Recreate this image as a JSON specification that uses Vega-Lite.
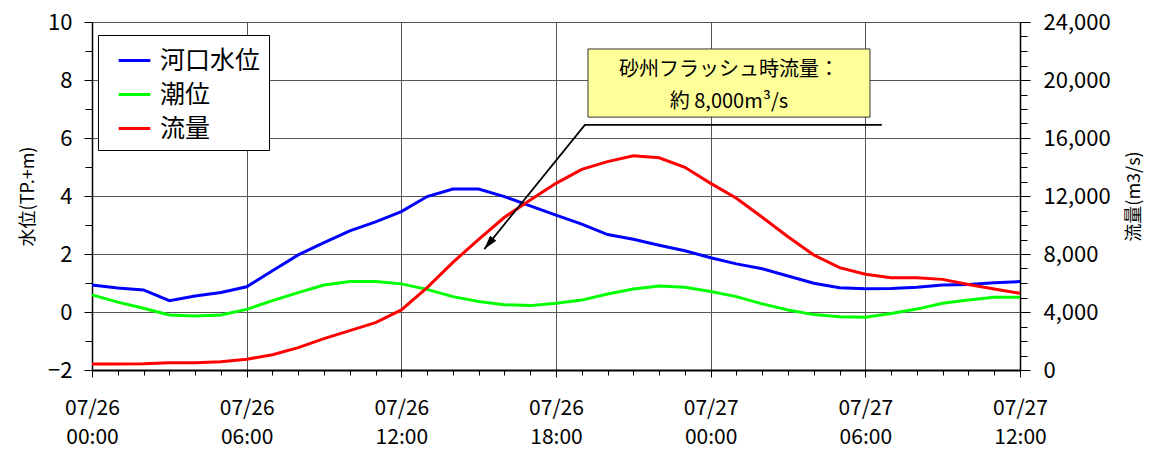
{
  "$schema": "https://vega.github.io/schema/vega-lite/v6.json",
  "width": 928,
  "height": 348,
  "autosize": {"type": "none"},
  "padding": {"left": 92, "top": 22, "right": 137, "bottom": 80},
  "background": "white",
  "config": {
    "font": "Noto Sans CJK JP",
    "view": {"stroke": "#000", "strokeWidth": 1},
    "axis": {
      "labelColor": "#000",
      "titleColor": "#000",
      "domainColor": "#000",
      "tickColor": "#000",
      "gridColor": "#555",
      "gridWidth": 1,
      "titleFontWeight": "normal",
      "labelFont": "Noto Sans CJK JP",
      "titleFont": "Noto Sans CJK JP"
    },
    "legend": {
      "orient": "none",
      "legendX": 6,
      "legendY": 13,
      "padding": 8,
      "strokeColor": "#000",
      "fillColor": "#fff",
      "symbolType": "stroke",
      "symbolSize": 1000,
      "symbolStrokeWidth": 3,
      "symbolOffset": 11,
      "labelFontSize": 25,
      "labelFont": "Noto Sans CJK JP",
      "labelColor": "#000",
      "labelOffset": 8,
      "rowPadding": 3,
      "labelLimit": 300
    }
  },
  "datasets": {
    "main": [
      {"h": 0, "s": "河口水位", "v": 0.93}, {"h": 1, "s": "河口水位", "v": 0.83}, {"h": 2, "s": "河口水位", "v": 0.76},
      {"h": 3, "s": "河口水位", "v": 0.39}, {"h": 4, "s": "河口水位", "v": 0.55}, {"h": 5, "s": "河口水位", "v": 0.67},
      {"h": 6, "s": "河口水位", "v": 0.87}, {"h": 7, "s": "河口水位", "v": 1.42}, {"h": 8, "s": "河口水位", "v": 1.97},
      {"h": 9, "s": "河口水位", "v": 2.39}, {"h": 10, "s": "河口水位", "v": 2.80}, {"h": 11, "s": "河口水位", "v": 3.11},
      {"h": 12, "s": "河口水位", "v": 3.46}, {"h": 13, "s": "河口水位", "v": 3.98}, {"h": 14, "s": "河口水位", "v": 4.24},
      {"h": 15, "s": "河口水位", "v": 4.24}, {"h": 16, "s": "河口水位", "v": 3.98}, {"h": 17, "s": "河口水位", "v": 3.66},
      {"h": 18, "s": "河口水位", "v": 3.34}, {"h": 19, "s": "河口水位", "v": 3.03}, {"h": 20, "s": "河口水位", "v": 2.67},
      {"h": 21, "s": "河口水位", "v": 2.51}, {"h": 22, "s": "河口水位", "v": 2.30}, {"h": 23, "s": "河口水位", "v": 2.11},
      {"h": 24, "s": "河口水位", "v": 1.87}, {"h": 25, "s": "河口水位", "v": 1.66}, {"h": 26, "s": "河口水位", "v": 1.49},
      {"h": 27, "s": "河口水位", "v": 1.24}, {"h": 28, "s": "河口水位", "v": 0.99}, {"h": 29, "s": "河口水位", "v": 0.84},
      {"h": 30, "s": "河口水位", "v": 0.80}, {"h": 31, "s": "河口水位", "v": 0.81}, {"h": 32, "s": "河口水位", "v": 0.85},
      {"h": 33, "s": "河口水位", "v": 0.93}, {"h": 34, "s": "河口水位", "v": 0.95}, {"h": 35, "s": "河口水位", "v": 1.01},
      {"h": 36, "s": "河口水位", "v": 1.05},
      {"h": 0, "s": "潮位", "v": 0.59}, {"h": 1, "s": "潮位", "v": 0.34}, {"h": 2, "s": "潮位", "v": 0.13},
      {"h": 3, "s": "潮位", "v": -0.10}, {"h": 4, "s": "潮位", "v": -0.14}, {"h": 5, "s": "潮位", "v": -0.10},
      {"h": 6, "s": "潮位", "v": 0.09}, {"h": 7, "s": "潮位", "v": 0.39}, {"h": 8, "s": "潮位", "v": 0.67},
      {"h": 9, "s": "潮位", "v": 0.93}, {"h": 10, "s": "潮位", "v": 1.05}, {"h": 11, "s": "潮位", "v": 1.05},
      {"h": 12, "s": "潮位", "v": 0.97}, {"h": 13, "s": "潮位", "v": 0.78}, {"h": 14, "s": "潮位", "v": 0.53},
      {"h": 15, "s": "潮位", "v": 0.36}, {"h": 16, "s": "潮位", "v": 0.25}, {"h": 17, "s": "潮位", "v": 0.22},
      {"h": 18, "s": "潮位", "v": 0.30}, {"h": 19, "s": "潮位", "v": 0.41}, {"h": 20, "s": "潮位", "v": 0.62},
      {"h": 21, "s": "潮位", "v": 0.79}, {"h": 22, "s": "潮位", "v": 0.90}, {"h": 23, "s": "潮位", "v": 0.85},
      {"h": 24, "s": "潮位", "v": 0.71}, {"h": 25, "s": "潮位", "v": 0.53}, {"h": 26, "s": "潮位", "v": 0.28},
      {"h": 27, "s": "潮位", "v": 0.07}, {"h": 28, "s": "潮位", "v": -0.09}, {"h": 29, "s": "潮位", "v": -0.16},
      {"h": 30, "s": "潮位", "v": -0.18}, {"h": 31, "s": "潮位", "v": -0.05}, {"h": 32, "s": "潮位", "v": 0.10},
      {"h": 33, "s": "潮位", "v": 0.30}, {"h": 34, "s": "潮位", "v": 0.41}, {"h": 35, "s": "潮位", "v": 0.51},
      {"h": 36, "s": "潮位", "v": 0.51},
      {"h": 0, "s": "流量", "v": 414}, {"h": 1, "s": "流量", "v": 414}, {"h": 2, "s": "流量", "v": 430},
      {"h": 3, "s": "流量", "v": 506}, {"h": 4, "s": "流量", "v": 506}, {"h": 5, "s": "流量", "v": 575},
      {"h": 6, "s": "流量", "v": 736}, {"h": 7, "s": "流量", "v": 1057}, {"h": 8, "s": "流量", "v": 1540},
      {"h": 9, "s": "流量", "v": 2161}, {"h": 10, "s": "流量", "v": 2713}, {"h": 11, "s": "流量", "v": 3265},
      {"h": 12, "s": "流量", "v": 4140}, {"h": 13, "s": "流量", "v": 5680}, {"h": 14, "s": "流量", "v": 7427},
      {"h": 15, "s": "流量", "v": 9010}, {"h": 16, "s": "流量", "v": 10530}, {"h": 17, "s": "流量", "v": 11724},
      {"h": 18, "s": "流量", "v": 12874}, {"h": 19, "s": "流量", "v": 13840}, {"h": 20, "s": "流量", "v": 14370},
      {"h": 21, "s": "流量", "v": 14780}, {"h": 22, "s": "流量", "v": 14640}, {"h": 23, "s": "流量", "v": 13980},
      {"h": 24, "s": "流量", "v": 12870}, {"h": 25, "s": "流量", "v": 11840}, {"h": 26, "s": "流量", "v": 10530},
      {"h": 27, "s": "流量", "v": 9195}, {"h": 28, "s": "流量", "v": 7930}, {"h": 29, "s": "流量", "v": 7057},
      {"h": 30, "s": "流量", "v": 6600}, {"h": 31, "s": "流量", "v": 6370}, {"h": 32, "s": "流量", "v": 6370},
      {"h": 33, "s": "流量", "v": 6250}, {"h": 34, "s": "流量", "v": 5900}, {"h": 35, "s": "流量", "v": 5590},
      {"h": 36, "s": "流量", "v": 5290}
    ],
    "box": [{"h1": 19.24, "h2": 30.18, "v1": 6.72, "v2": 9.07}],
    "arrow": [
      {"h": 30.64, "v": 6.45, "o": 1},
      {"h": 19.12, "v": 6.45, "o": 2},
      {"h": 15.22, "v": 2.17, "o": 3}
    ],
    "head": [{"h": 15.22, "v": 2.17}],
    "note": [
      {"h": 24.71, "v": 8.34, "txt": "砂州フラッシュ時流量："},
      {"h": 24.71, "v": 7.25, "txt": "約 8,000m³/s"}
    ]
  },
  "resolve": {
    "scale": {"y": "independent"},
    "axis": {"x": "independent", "y": "independent"}
  },
  "layer": [
    {
      "data": {"name": "main"},
      "transform": [{"filter": "datum.s == '河口水位'"}],
      "mark": {"type": "line", "opacity": 0},
      "encoding": {
        "x": {
          "field": "h", "type": "quantitative",
          "scale": {"domain": [0, 36], "nice": false, "zero": false},
          "axis": {"orient": "bottom", "values": [1,2,3,4,5,7,8,9,10,11,13,14,15,16,17,19,20,21,22,23,25,26,27,28,29,31,32,33,34,35], "labels": false, "domain": false, "grid": false, "tickSize": 5, "title": null}
        },
        "y": {
          "field": "v", "type": "quantitative",
          "scale": {"domain": [-2, 10], "nice": false, "zero": false},
          "axis": {"orient": "left", "values": [-1, 1, 3, 5, 7, 9], "labels": false, "domain": false, "grid": false, "tickSize": 7, "title": null}
        }
      }
    },
    {
      "data": {"name": "main"},
      "transform": [{"filter": "datum.s != '流量'"}],
      "mark": {"type": "line", "strokeWidth": 3},
      "encoding": {
        "x": {
          "field": "h", "type": "quantitative",
          "scale": {"domain": [0, 36], "nice": false, "zero": false},
          "axis": {
            "orient": "bottom", "values": [0, 6, 12, 18, 24, 30, 36], "grid": true,
            "labelExpr": "datum.value < 24 ? '07/26' : '07/27'",
            "labelFontSize": 21, "labelPadding": 20, "tickSize": 7,
            "domainWidth": 2, "labelFlush": false, "labelOverlap": false, "title": null
          }
        },
        "y": {
          "field": "v", "type": "quantitative",
          "scale": {"domain": [-2, 10], "nice": false, "zero": false},
          "axis": {
            "orient": "left", "values": [-2, 0, 2, 4, 6, 8, 10], "grid": true,
            "labelFontSize": 22, "labelPadding": 12, "tickSize": 8, "domainWidth": 1.5,
            "title": "水位(TP.+m)", "titleFontSize": 18, "titlePadding": 10
          }
        },
        "color": {
          "field": "s", "type": "nominal",
          "scale": {"domain": ["河口水位", "潮位", "流量"], "range": ["#0000FF", "#00FF00", "#FF0000"]},
          "legend": {"title": null}
        }
      }
    },
    {
      "data": {"name": "main"},
      "transform": [{"filter": "datum.s == '流量'"}],
      "mark": {"type": "line", "strokeWidth": 3},
      "encoding": {
        "x": {
          "field": "h", "type": "quantitative",
          "scale": {"domain": [0, 36], "nice": false, "zero": false},
          "axis": {
            "orient": "bottom", "values": [0, 6, 12, 18, 24, 30, 36], "grid": false, "domain": false, "ticks": false,
            "labelExpr": "(datum.value % 24 < 10 ? '0' : '') + (datum.value % 24) + ':00'",
            "labelFontSize": 21, "labelPadding": 56, "labelFlush": false, "labelOverlap": false, "title": null
          }
        },
        "y": {
          "field": "v", "type": "quantitative",
          "scale": {"domain": [0, 24000], "nice": false, "zero": false},
          "axis": {
            "orient": "right", "values": [0, 4000, 8000, 12000, 16000, 20000, 24000], "format": ",d",
            "grid": false, "labelFontSize": 22, "labelPadding": 13, "tickSize": 10, "domainWidth": 1.5,
            "title": "流量(m3/s)", "titleFontSize": 18, "titlePadding": 33, "titleAngle": 270
          }
        },
        "color": {
          "field": "s", "type": "nominal",
          "scale": {"domain": ["河口水位", "潮位", "流量"], "range": ["#0000FF", "#00FF00", "#FF0000"]},
          "legend": {"title": null}
        }
      }
    },
    {
      "data": {"name": "main"},
      "transform": [{"filter": "datum.s == '流量'"}],
      "mark": {"type": "line", "opacity": 0},
      "encoding": {
        "x": {"field": "h", "type": "quantitative", "scale": {"domain": [0, 36], "nice": false, "zero": false}, "axis": null},
        "y": {
          "field": "v", "type": "quantitative",
          "scale": {"domain": [0, 24000], "nice": false, "zero": false},
          "axis": {
            "orient": "right", "values": [1000, 2000, 3000, 5000, 6000, 7000, 9000, 10000, 11000, 13000, 14000, 15000, 17000, 18000, 19000, 21000, 22000, 23000],
            "labels": false, "domain": false, "grid": false, "tickSize": 7, "title": null
          }
        }
      }
    },
    {
      "data": {"name": "box"},
      "mark": {"type": "rect", "fill": "#FFFF99", "stroke": "#333", "strokeWidth": 1},
      "encoding": {
        "x": {"field": "h1", "type": "quantitative", "axis": null, "scale": {"domain": [0, 36], "nice": false, "zero": false}},
        "x2": {"field": "h2"},
        "y": {"field": "v1", "type": "quantitative", "axis": null, "scale": {"domain": [-2, 10], "nice": false, "zero": false}},
        "y2": {"field": "v2"}
      }
    },
    {
      "data": {"name": "arrow"},
      "mark": {"type": "line", "color": "#000", "strokeWidth": 1.8},
      "encoding": {
        "x": {"field": "h", "type": "quantitative", "axis": null, "scale": {"domain": [0, 36], "nice": false, "zero": false}},
        "y": {"field": "v", "type": "quantitative", "axis": null, "scale": {"domain": [-2, 10], "nice": false, "zero": false}},
        "order": {"field": "o", "type": "quantitative"}
      }
    },
    {
      "data": {"name": "head"},
      "mark": {"type": "point", "shape": "M0,0L0.57,2L-0.57,2Z", "filled": true, "color": "#000", "opacity": 1, "size": 196, "angle": 219},
      "encoding": {
        "x": {"field": "h", "type": "quantitative", "axis": null, "scale": {"domain": [0, 36], "nice": false, "zero": false}},
        "y": {"field": "v", "type": "quantitative", "axis": null, "scale": {"domain": [-2, 10], "nice": false, "zero": false}}
      }
    },
    {
      "data": {"name": "note"},
      "mark": {"type": "text", "fontSize": 20, "font": "Noto Sans CJK JP", "align": "center", "baseline": "middle", "color": "#000"},
      "encoding": {
        "x": {"field": "h", "type": "quantitative", "axis": null, "scale": {"domain": [0, 36], "nice": false, "zero": false}},
        "y": {"field": "v", "type": "quantitative", "axis": null, "scale": {"domain": [-2, 10], "nice": false, "zero": false}},
        "text": {"field": "txt", "type": "nominal"}
      }
    }
  ]
}
